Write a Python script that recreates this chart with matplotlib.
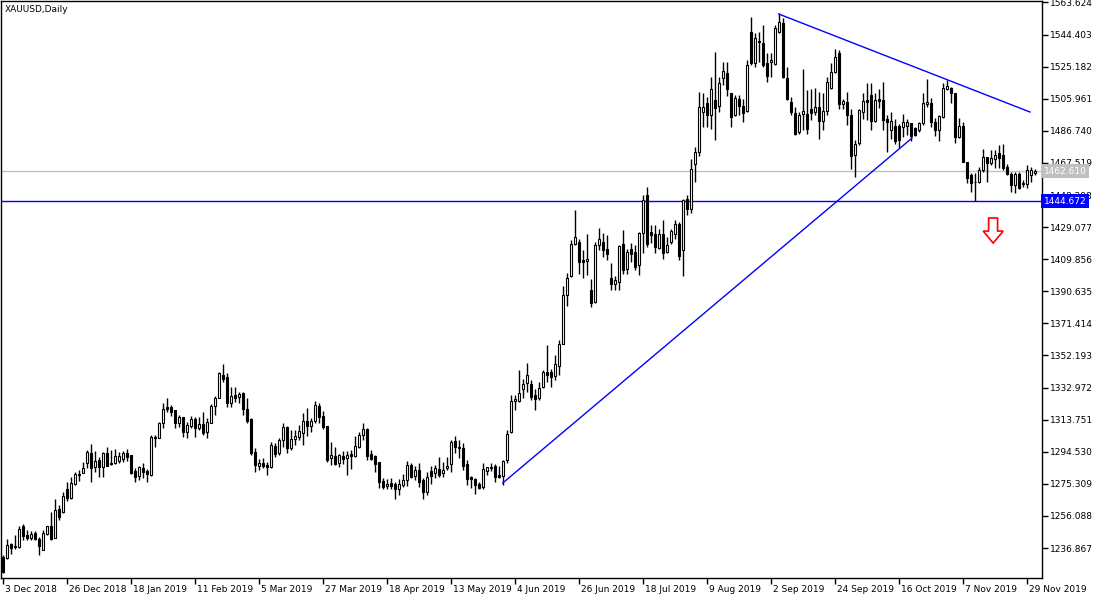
import numpy as np
import matplotlib
matplotlib.use("Agg")
import matplotlib.pyplot as plt
from matplotlib.patches import Polygon
from matplotlib.transforms import blended_transform_factory, ScaledTranslation

# daily candles, XAUUSD
opens = [
    1231.5, 1231.1, 1239.1, 1237.3, 1237.5, 1250.3, 1244.9, 1243.1, 1246.1, 1242.5,
    1235.9, 1245.5, 1249.9, 1243.1, 1260.3, 1258.3, 1272.5, 1267.1, 1275.5, 1280.3,
    1281.9, 1287.5, 1293.5, 1285.5, 1289.5, 1285.1, 1293.5, 1287.9, 1287.9, 1288.9,
    1289.9, 1293.5, 1292.5, 1282.9, 1280.1, 1284.5, 1282.9, 1280.5, 1303.5, 1302.9,
    1311.5, 1321.3, 1321.1, 1319.5, 1311.9, 1315.5, 1306.5, 1310.1, 1314.1, 1308.5,
    1310.9, 1306.1, 1311.9, 1321.9, 1326.9, 1340.5, 1339.5, 1323.9, 1328.5, 1327.5,
    1329.5, 1319.9, 1313.9, 1294.1, 1285.9, 1287.5, 1286.3, 1285.5, 1297.9, 1293.5,
    1301.5, 1309.5, 1296.5, 1301.9, 1303.5, 1305.5, 1312.9, 1309.9, 1313.1, 1321.9,
    1315.9, 1309.9, 1290.5, 1291.9, 1287.5, 1292.1, 1290.5, 1292.9, 1291.9, 1297.5,
    1304.3, 1307.9, 1292.9, 1291.9, 1288.5, 1276.9, 1273.9, 1276.1, 1275.5, 1272.5,
    1274.9, 1277.5, 1286.5, 1280.1, 1283.5, 1277.5, 1270.5, 1282.9, 1281.5, 1284.1,
    1281.5, 1284.5, 1287.1, 1300.9, 1297.5, 1296.5, 1287.1, 1279.1, 1277.9, 1275.1,
    1273.5, 1283.1, 1285.5, 1285.9, 1280.5, 1280.1, 1289.5, 1306.3, 1324.7, 1324.7,
    1331.9, 1335.7, 1334.9, 1328.3, 1326.7, 1333.3, 1342.3, 1342.3, 1339.9, 1345.9,
    1359.3, 1388.3, 1399.7, 1418.9, 1420.3, 1409.3, 1408.9, 1391.7, 1384.3, 1418.3,
    1420.3, 1416.2, 1398.8, 1395.2, 1396.2, 1419.2, 1404.2, 1416.2, 1414.2, 1406.2,
    1425.8, 1448.2, 1426.2, 1424.8, 1416.6, 1425.2, 1414.2, 1420.2, 1424.8, 1430.8,
    1415.6, 1445.8, 1440.2, 1466.6, 1474.2, 1498.2, 1503.7, 1496.1, 1505.1, 1501.5,
    1518.1, 1521.5, 1509.1, 1496.1, 1506.1, 1501.5, 1498.7, 1545.7, 1527.1, 1540.1,
    1539.1, 1527.1, 1528.1, 1526.7, 1546.1, 1551.1, 1518.1, 1504.1, 1497.7, 1486.1,
    1496.7, 1497.1, 1500.1, 1498.1, 1501.1, 1492.5, 1498.5, 1512.1, 1522.1, 1533.1,
    1503.1, 1504.1, 1496.1, 1472.1, 1479.5, 1498.1, 1505.5, 1508.1, 1492.7, 1506.1,
    1505.5, 1494.1, 1487.1, 1489.5, 1489.5, 1489.1, 1489.6, 1491.6, 1488.2, 1487.2,
    1491.2, 1502.6, 1503.2, 1492.2, 1487.2, 1494.8, 1511.6, 1512.2, 1509.2, 1483.2,
    1489.6, 1468.2, 1460.2, 1455.8, 1456.2, 1463.2, 1470.8, 1467.2, 1469.6, 1473.2,
    1472.0, 1465.1, 1460.7, 1454.1, 1461.1, 1455.7, 1455.1, 1460.0, 1461.5,
]
highs = [
    1232.5, 1242.5, 1239.9, 1244.5, 1249.9, 1251.1, 1247.5, 1247.1, 1246.9, 1243.5,
    1247.5, 1250.3, 1258.5, 1266.5, 1262.5, 1270.5, 1276.5, 1279.5, 1282.5, 1283.5,
    1288.5, 1295.5, 1299.1, 1295.1, 1291.5, 1294.3, 1297.1, 1295.5, 1296.1, 1294.1,
    1294.9, 1296.1, 1292.5, 1284.5, 1285.9, 1287.5, 1283.9, 1304.5, 1304.5, 1312.5,
    1323.5, 1326.5, 1322.5, 1319.5, 1316.5, 1315.5, 1312.5, 1315.9, 1315.5, 1315.5,
    1318.5, 1314.5, 1322.9, 1327.9, 1342.5, 1347.1, 1341.5, 1333.1, 1333.5, 1330.1,
    1330.1, 1326.5, 1314.5, 1296.5, 1289.9, 1290.5, 1288.5, 1300.5, 1299.9, 1302.5,
    1311.9, 1309.9, 1307.5, 1307.5, 1310.5, 1317.5, 1320.5, 1314.5, 1324.9, 1323.5,
    1319.1, 1309.9, 1300.5, 1297.5, 1293.0, 1294.9, 1294.9, 1295.5, 1303.9, 1306.5,
    1311.5, 1308.5, 1295.5, 1292.5, 1288.5, 1278.5, 1277.9, 1278.5, 1276.5, 1277.9,
    1281.0, 1288.9, 1287.5, 1285.9, 1287.5, 1278.5, 1282.5, 1285.9, 1286.5, 1291.5,
    1288.5, 1291.5, 1301.5, 1303.9, 1301.5, 1299.5, 1289.5, 1279.9, 1278.5, 1276.5,
    1287.5, 1285.5, 1287.5, 1287.1, 1285.9, 1289.5, 1307.3, 1328.3, 1328.3, 1343.7,
    1338.3, 1347.9, 1337.3, 1332.3, 1336.3, 1343.7, 1358.3, 1344.3, 1352.3, 1361.7,
    1393.7, 1401.7, 1421.3, 1439.3, 1421.7, 1415.3, 1424.7, 1397.7, 1420.3, 1428.3,
    1425.3, 1424.2, 1407.6, 1399.8, 1418.6, 1427.2, 1416.2, 1419.8, 1418.6, 1426.2,
    1448.2, 1453.2, 1430.2, 1430.2, 1428.2, 1433.6, 1423.2, 1428.2, 1433.6, 1432.2,
    1446.2, 1448.2, 1469.8, 1477.2, 1509.8, 1509.2, 1507.1, 1519.1, 1534.1, 1519.1,
    1528.1, 1528.1, 1509.1, 1508.1, 1508.1, 1506.1, 1529.1, 1555.1, 1545.1, 1546.1,
    1550.1, 1533.1, 1533.1, 1550.1, 1557.1, 1554.1, 1525.1, 1507.1, 1501.1, 1498.1,
    1523.5, 1511.1, 1511.5, 1512.1, 1510.1, 1509.1, 1519.1, 1527.1, 1535.5, 1535.1,
    1506.1, 1510.1, 1500.1, 1481.1, 1500.1, 1509.1, 1515.5, 1515.1, 1509.5, 1511.5,
    1516.1, 1496.1, 1498.1, 1494.1, 1491.1, 1497.1, 1493.6, 1491.6, 1489.2, 1492.2,
    1509.6, 1517.6, 1506.2, 1494.2, 1496.2, 1515.2, 1517.2, 1513.2, 1509.2, 1494.2,
    1492.2, 1468.2, 1461.2, 1461.2, 1465.2, 1475.6, 1471.2, 1475.2, 1475.2, 1478.2,
    1479.0, 1467.1, 1462.1, 1462.1, 1462.1, 1457.1, 1466.1, 1465.0, 1464.0,
]
lows = [
    1221.9, 1230.5, 1233.5, 1236.5, 1237.1, 1241.9, 1241.5, 1241.9, 1241.5, 1232.9,
    1235.5, 1244.5, 1241.9, 1242.9, 1253.5, 1257.9, 1264.9, 1266.5, 1274.9, 1277.1,
    1281.5, 1284.5, 1276.5, 1282.5, 1279.5, 1279.5, 1285.9, 1286.5, 1287.1, 1287.5,
    1288.1, 1288.9, 1280.9, 1276.5, 1277.5, 1278.5, 1276.5, 1280.1, 1297.5, 1302.5,
    1308.9, 1318.1, 1315.9, 1308.5, 1309.5, 1303.5, 1302.9, 1308.5, 1303.5, 1307.5,
    1304.5, 1302.5, 1311.5, 1316.5, 1326.5, 1336.5, 1321.5, 1321.1, 1324.5, 1323.5,
    1316.5, 1311.5, 1292.5, 1282.5, 1283.5, 1284.5, 1280.5, 1284.5, 1291.5, 1292.5,
    1297.1, 1293.5, 1295.5, 1298.5, 1301.5, 1298.5, 1303.9, 1306.5, 1311.5, 1311.5,
    1307.9, 1288.5, 1286.5, 1286.5, 1285.5, 1287.1, 1280.5, 1284.1, 1291.5, 1296.5,
    1301.5, 1289.5, 1289.5, 1282.5, 1273.1, 1272.5, 1272.5, 1272.5, 1266.5, 1268.5,
    1273.5, 1273.9, 1278.5, 1277.5, 1273.5, 1266.5, 1268.5, 1275.5, 1278.5, 1279.1,
    1279.5, 1283.5, 1282.1, 1293.9, 1290.5, 1283.5, 1274.5, 1273.1, 1269.5, 1272.1,
    1272.5, 1280.5, 1282.9, 1276.5, 1278.5, 1274.5, 1288.0, 1305.9, 1319.7, 1324.3,
    1326.7, 1330.3, 1325.3, 1319.3, 1325.7, 1332.7, 1336.3, 1333.3, 1337.7, 1340.3,
    1358.9, 1381.7, 1399.3, 1418.3, 1400.9, 1398.3, 1400.3, 1381.3, 1383.9, 1415.3,
    1411.0, 1409.6, 1391.6, 1391.6, 1391.6, 1401.2, 1400.8, 1408.2, 1403.2, 1400.2,
    1413.6, 1417.2, 1419.6, 1413.6, 1416.2, 1410.2, 1413.6, 1419.2, 1422.2, 1409.2,
    1399.6, 1436.2, 1437.6, 1455.8, 1471.6, 1489.2, 1489.1, 1488.1, 1481.1, 1498.1,
    1514.1, 1507.5, 1489.1, 1495.5, 1496.1, 1492.1, 1498.1, 1526.1, 1525.1, 1528.1,
    1525.1, 1516.1, 1519.1, 1526.1, 1545.1, 1518.1, 1505.1, 1496.1, 1484.1, 1485.1,
    1487.1, 1485.1, 1493.1, 1496.1, 1482.1, 1487.1, 1496.1, 1511.5, 1521.1, 1500.1,
    1500.1, 1490.1, 1464.1, 1459.1, 1478.1, 1494.1, 1493.5, 1487.1, 1492.1, 1500.7,
    1487.1, 1474.1, 1482.1, 1479.1, 1476.7, 1483.1, 1484.2, 1480.8, 1483.6, 1486.2,
    1490.2, 1501.2, 1489.2, 1483.6, 1480.8, 1494.2, 1511.2, 1503.2, 1479.2, 1482.2,
    1468.2, 1455.2, 1450.2, 1444.7, 1455.2, 1462.2, 1456.2, 1466.2, 1464.2, 1464.2,
    1463.0, 1460.1, 1450.1, 1449.5, 1452.1, 1453.1, 1452.7, 1456.0, 1460.0,
]
closes = [
    1222.5, 1238.9, 1237.1, 1238.1, 1248.5, 1244.3, 1243.1, 1245.5, 1242.5, 1237.9,
    1246.1, 1249.9, 1242.5, 1259.9, 1255.5, 1268.3, 1266.9, 1275.9, 1281.1, 1281.1,
    1284.5, 1294.1, 1284.5, 1288.7, 1285.1, 1293.9, 1286.1, 1286.9, 1291.9, 1291.9,
    1293.5, 1291.5, 1281.5, 1279.5, 1285.1, 1282.5, 1280.9, 1303.1, 1302.5, 1311.5,
    1320.1, 1320.3, 1318.1, 1311.9, 1315.1, 1306.1, 1310.5, 1314.1, 1308.5, 1310.9,
    1305.9, 1312.5, 1321.9, 1326.9, 1341.5, 1337.9, 1323.5, 1327.9, 1326.9, 1329.1,
    1319.9, 1312.9, 1293.5, 1286.5, 1287.5, 1285.9, 1285.5, 1298.5, 1293.1, 1301.5,
    1309.5, 1296.5, 1301.9, 1303.9, 1306.9, 1312.9, 1309.9, 1312.9, 1322.5, 1315.1,
    1309.5, 1289.5, 1292.5, 1287.1, 1292.5, 1289.9, 1292.5, 1292.1, 1297.9, 1304.5,
    1307.9, 1291.9, 1289.9, 1287.1, 1276.5, 1273.5, 1275.5, 1274.1, 1272.5, 1275.5,
    1277.5, 1286.5, 1279.5, 1283.5, 1276.5, 1270.5, 1279.1, 1279.9, 1284.5, 1280.5,
    1283.5, 1285.9, 1300.5, 1297.1, 1296.5, 1285.9, 1277.9, 1277.9, 1274.5, 1273.1,
    1283.9, 1285.1, 1284.5, 1279.5, 1279.5, 1289.1, 1305.3, 1324.7, 1325.9, 1329.9,
    1335.3, 1340.3, 1327.3, 1325.9, 1332.9, 1342.3, 1340.3, 1339.3, 1346.9, 1359.3,
    1388.3, 1398.3, 1418.9, 1422.9, 1408.3, 1408.3, 1409.7, 1383.9, 1418.3, 1421.7,
    1415.3, 1413.2, 1395.2, 1397.2, 1417.6, 1403.2, 1414.2, 1413.2, 1405.2, 1425.8,
    1445.6, 1419.2, 1424.6, 1417.2, 1424.8, 1413.6, 1418.2, 1426.6, 1430.8, 1411.8,
    1445.2, 1440.2, 1463.6, 1473.8, 1500.8, 1500.8, 1496.1, 1511.5, 1500.7, 1515.5,
    1522.7, 1511.5, 1495.1, 1506.7, 1501.5, 1497.5, 1526.1, 1527.1, 1542.1, 1540.7,
    1526.1, 1519.5, 1529.1, 1548.1, 1552.1, 1518.7, 1506.1, 1498.1, 1485.1, 1496.1,
    1498.5, 1488.1, 1497.5, 1501.1, 1492.7, 1498.7, 1516.1, 1522.1, 1531.1, 1503.1,
    1504.5, 1496.1, 1471.5, 1479.1, 1499.5, 1504.7, 1504.1, 1492.7, 1505.1, 1504.7,
    1493.5, 1492.1, 1492.7, 1480.5, 1481.1, 1492.1, 1492.2, 1483.6, 1484.2, 1491.2,
    1503.2, 1504.2, 1492.2, 1487.2, 1495.6, 1512.2, 1513.6, 1509.2, 1483.2, 1489.6,
    1468.2, 1458.2, 1455.2, 1456.2, 1463.2, 1470.8, 1467.2, 1470.2, 1472.2, 1470.2,
    1464.5, 1461.1, 1454.1, 1461.1, 1452.7, 1454.7, 1463.1, 1463.0, 1462.61,
]

date_labels = [
    "3 Dec 2018", "26 Dec 2018", "18 Jan 2019", "11 Feb 2019", "5 Mar 2019",
    "27 Mar 2019", "18 Apr 2019", "13 May 2019", "4 Jun 2019", "26 Jun 2019",
    "18 Jul 2019", "9 Aug 2019", "2 Sep 2019", "24 Sep 2019", "16 Oct 2019",
    "7 Nov 2019", "29 Nov 2019",
]
LABEL_STEP = 16  # bars between date labels

price_ticks = [
    1563.624, 1544.403, 1525.182, 1505.961, 1486.740, 1467.519, 1448.298,
    1429.077, 1409.856, 1390.635, 1371.414, 1352.193, 1332.972, 1313.751,
    1294.530, 1275.309, 1256.088, 1236.867,
]

BID = 1462.610
SUPPORT = 1444.672

# trend lines: (bar index, price) end points
rise_line = ([125, 227.3], [1275.8, 1482.4])
fall_line = ([194, 256.8], [1556.7, 1498.0])

FS = 6.5

o = np.array(opens)
h = np.array(highs)
l = np.array(lows)
c = np.array(closes)
x = np.arange(len(o))

fig = plt.figure(figsize=(11, 6), dpi=100)
ax = fig.add_axes([1 / 1100, 22 / 600, 1041 / 1100, 577 / 600])
ax.set_xlim(-0.43, 259.8)
ax.set_ylim(1218.9, 1564.5)

# bid / support lines
ax.axhline(BID, color="#c0c0c0", lw=1, zorder=1)
ax.axhline(SUPPORT, color="#0000ff", lw=1, zorder=1)

# candles
ax.vlines(x, l, h, color="black", lw=1, zorder=2)
up = c >= o
dn = ~up
ax.bar(x[up], c[up] - o[up], bottom=o[up], width=0.6, color="white",
       edgecolor="black", linewidth=0.8, zorder=3)
ax.bar(x[dn], o[dn] - c[dn], bottom=c[dn], width=0.6, color="black",
       edgecolor="black", linewidth=0.8, zorder=3)

ax.plot(*rise_line, color="#0000ff", lw=1, zorder=4)
ax.plot(*fall_line, color="#0000ff", lw=1, zorder=4)

# hollow red down arrow
arrow = Polygon([(246.45, 1434.5), (248.7, 1434.5), (248.7, 1426.7),
                 (250.1, 1426.7), (247.6, 1419.5), (245.1, 1426.7),
                 (246.45, 1426.7)], closed=True, facecolor="white",
                edgecolor="red", lw=1.2, zorder=5)
ax.add_patch(arrow)

# axes styling
for s in ax.spines.values():
    s.set_color("black")
    s.set_linewidth(1)
ax.yaxis.tick_right()
ax.set_yticks(price_ticks)
ax.set_yticklabels([f"{p:.3f}" for p in price_ticks])
ax.tick_params(axis="y", direction="out", length=4, width=1, pad=2,
               labelsize=FS, colors="black")
ax.set_xticks(x[::LABEL_STEP][:len(date_labels)])
ax.set_xticklabels(date_labels)
ax.tick_params(axis="x", direction="out", length=4, width=1, pad=1,
               labelsize=FS, colors="black")
shift = ScaledTranslation(2 / 100, 0, fig.dpi_scale_trans)
for lab in ax.get_xticklabels():
    lab.set_ha("left")
    lab.set_transform(lab.get_transform() + shift)

# price boxes on the right scale (they sit over the nearby scale labels, as in MT4)
tr = blended_transform_factory(ax.transAxes, ax.transData)
ax.text(1.0015, BID, "1462.610", transform=tr, va="center", ha="left",
        fontsize=FS, color="white", zorder=10, clip_on=False,
        bbox=dict(boxstyle="square,pad=0.3", fc="#c0c0c0", ec="none"))
ax.text(1.0015, SUPPORT, "1444.672", transform=tr, va="center", ha="left",
        fontsize=FS, color="white", zorder=10, clip_on=False,
        bbox=dict(boxstyle="square,pad=0.3", fc="#0000ff", ec="none"))

ax.text(0.004, 0.993, "XAUUSD,Daily", transform=ax.transAxes, va="top",
        ha="left", fontsize=FS, color="black")

fig.savefig("out.png", dpi=100, facecolor="white")
